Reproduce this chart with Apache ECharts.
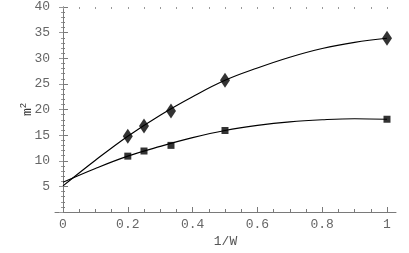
<!DOCTYPE html>
<html>
<head>
<meta charset="utf-8">
<script src="https://cdn.jsdelivr.net/npm/echarts@6/dist/echarts.min.js"></script>
<style>html,body{margin:0;padding:0;background:#fff}#c{width:409px;height:253px}</style>
</head>
<body>
<div id="c"></div>
<script>
// Data
var pointX = [0.2, 0.25, 0.3333, 0.5, 1];
var diamondY = [14.8, 16.8, 19.7, 25.7, 33.9];
var squareY = [10.9, 11.9, 13.0, 15.9, 18.1];
var curveX = [0, 0.1, 0.2, 0.3, 0.4, 0.5, 0.6, 0.7, 0.8, 0.9, 1.0];
var diamondCurveY = [5.1, 10.1, 14.8, 18.9, 22.5, 25.7, 28.1, 30.2, 31.9, 33.1, 33.9];
var squareCurveY = [5.8, 8.5, 10.9, 12.8, 14.5, 15.9, 16.9, 17.6, 18.0, 18.2, 18.1];
var xTickLabels = [0, 0.2, 0.4, 0.6, 0.8, 1];
var xMinorTicks = [0.05,0.1,0.15,0.25,0.3,0.35,0.45,0.5,0.55,0.65,0.7,0.75,0.85,0.9,0.95];
var xAllTicks = [0,0.05,0.1,0.15,0.2,0.25,0.3,0.35,0.4,0.45,0.5,0.55,0.6,0.65,0.7,0.75,0.8,0.85,0.9,0.95,1];

function zip(xs, ys){ return xs.map(function(x,i){ return [x, ys[i]]; }); }

var font = 'Liberation Mono';
var axisColor = '#7a7a7a';
var labelColor = '#666';
var chart = echarts.init(document.getElementById('c'), null, {renderer:'canvas'});
var xMin = -0.0247, xMax = 1.0278;
chart.setOption({
  animation: false,
  grid: {left: 55, right: 13, top: 7, bottom: 36, containLabel: false},
  xAxis: [
    {type:'value', position:'bottom', min:xMin, max:xMax,
     axisLine:{show:true, lineStyle:{color:axisColor, width:1}},
     axisTick:{show:true, inside:true, length:5, customValues:xTickLabels, lineStyle:{color:axisColor}},
     axisLabel:{show:true, customValues:xTickLabels, margin:6, fontFamily:font, fontSize:13, color:labelColor,
       formatter:function(v){ return String(Math.round(v*10)/10); }},
     splitLine:{show:false},
     name:'1/W', nameLocation:'middle', nameGap:23, nameMoveOverlap:false,
     nameTextStyle:{fontFamily:font, fontSize:13, color:'#555'}},
    {type:'value', position:'bottom', min:xMin, max:xMax,
     axisLine:{show:false},
     axisTick:{show:true, inside:true, length:3, customValues:xMinorTicks, lineStyle:{color:axisColor}},
     axisLabel:{show:false}, splitLine:{show:false}},
    {type:'value', position:'top', min:xMin, max:xMax,
     axisLine:{show:true, lineStyle:{color:'#dddddd', width:1, opacity:0}},
     axisTick:{show:true, inside:true, length:2, customValues:xAllTicks, lineStyle:{color:'#999'}},
     axisLabel:{show:false}, splitLine:{show:false}}
  ],
  yAxis: [
    {type:'value', position:'left', min:0, max:40, interval:5,
     axisLine:{show:true, lineStyle:{color:axisColor, width:1}},
     axisTick:{show:true, inside:true, length:5, lineStyle:{color:axisColor}},
     minorTick:{show:true, splitNumber:5, length:2, lineStyle:{color:axisColor}},
     axisLabel:{show:true, margin:5, fontFamily:font, fontSize:13, color:labelColor,
       formatter:function(v){ return (v===0)?'':String(v); }},
     splitLine:{show:false},
     name:'m{s|2}', nameLocation:'middle', nameGap:19, nameRotate:90, nameMoveOverlap:false,
     nameTextStyle:{fontFamily:font, fontSize:13, color:'#333',
       rich:{s:{fontFamily:font, fontSize:9, color:'#333', verticalAlign:'top', padding:[0,0,8,0]}}}},
    {type:'value', position:'right', min:0, max:40, interval:5,
     axisLine:{show:true, lineStyle:{color:axisColor, width:1}},
     axisTick:{show:true, inside:true, length:4, lineStyle:{color:'#999'}},
     minorTick:{show:true, splitNumber:5, length:2, lineStyle:{color:'#999'}},
     axisLabel:{show:false}, splitLine:{show:false}}
  ],
  series: [
    {type:'line', data:zip(curveX, diamondCurveY), smooth:0.4, symbol:'none',
     lineStyle:{color:'#000', width:1.2}, z:2},
    {type:'line', data:zip(curveX, squareCurveY), smooth:0.4, symbol:'none',
     lineStyle:{color:'#000', width:1.2}, z:2},
    {type:'scatter', data:zip(pointX, diamondY), symbol:'diamond', symbolSize:[10,15],
     itemStyle:{color:'#000'}, z:3},
    {type:'scatter', data:zip(pointX, squareY), symbol:'rect', symbolSize:7,
     itemStyle:{color:'#000'}, z:3}
  ]
});
</script>
</body>
</html>
